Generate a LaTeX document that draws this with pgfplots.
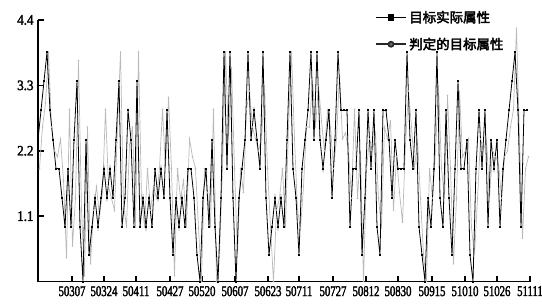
\documentclass[border=0pt]{standalone}
\usepackage{fontspec}
\setmainfont{Liberation Serif}
\newfontfamily\cjk{Noto Sans CJK SC}[FakeBold=3]
\newfontfamily\xtickfont{Liberation Serif}[FakeStretch=0.72, FakeBold=2]
\newfontfamily\ytickfont{Liberation Serif}[FakeStretch=0.9, FakeBold=2]
\usepackage{pgfplots}
\usepackage{pgfplotstable}
\pgfplotsset{compat=1.18}

\pgfplotstableread[row sep=\\]{
u a b\\
0 2.39 1.9\\
3 2.88 2.6\\
6 3.37 3.0\\
9 3.86 3.86\\
12 2.88 2.6\\
15 2.39 2.2\\
18 1.9 2.1\\
21 1.9 2.4\\
24 1.41 1.7\\
27 0.92 0.4\\
30 1.9 2.9\\
33 0.92 0.6\\
36 2.39 1.4\\
39 3.37 3.72\\
42 0.92 1.2\\
45 0 0.1\\
48 2.39 2.6\\
51 0.45 0.3\\
54 0.92 1.2\\
57 1.41 1.6\\
60 0.92 1.1\\
63 1.41 1.5\\
66 1.9 2.9\\
69 1.41 1.6\\
72 1.9 1.4\\
75 1.41 1.2\\
78 2.39 2.6\\
81 3.37 3.86\\
84 0.92 1.3\\
87 1.41 0.92\\
90 2.88 2.3\\
93 2.39 2.6\\
96 0.92 0.92\\
99 3.37 3.86\\
102 0.92 1.4\\
105 1.41 0.92\\
108 0.92 1.9\\
111 1.41 1.2\\
114 0.92 1.6\\
117 1.9 1.4\\
120 1.41 1.9\\
123 1.9 2.9\\
126 1.41 1.9\\
129 2.88 3.1\\
132 1.41 1.9\\
135 0.45 0.1\\
138 1.41 1.9\\
141 0.92 1.4\\
144 1.41 1.7\\
147 0.92 0.92\\
150 1.9 2.4\\
153 1.9 2.1\\
156 1.41 1.9\\
159 0.45 0.9\\
162 0 0\\
165 1.41 1.9\\
168 1.9 1.5\\
171 0.92 0.92\\
174 2.39 2.9\\
177 0.92 0\\
180 0 0.45\\
183 1.41 1.9\\
186 3.86 3.86\\
189 1.9 2.4\\
192 3.86 3.6\\
195 1.41 1.9\\
198 0 0.45\\
201 1.41 1.9\\
204 1.9 1.5\\
207 2.39 2.9\\
210 3.86 3.2\\
213 2.39 2.6\\
216 2.88 2.4\\
219 2.39 2.2\\
222 1.9 2.4\\
225 3.86 3.3\\
228 1.41 1.9\\
231 0.45 0.92\\
234 0.92 0\\
237 1.41 1.2\\
240 0.92 1.4\\
243 1.41 1.9\\
246 0.92 0.92\\
249 2.39 2.6\\
252 3.86 3.86\\
255 1.9 2.4\\
258 1.41 1.2\\
261 0.45 0.9\\
264 1.9 1.6\\
267 2.39 2.6\\
270 2.88 2.6\\
273 3.86 3.4\\
276 2.39 2.6\\
279 3.86 3.3\\
282 2.39 2.7\\
285 1.9 2.2\\
288 2.39 2.88\\
291 2.88 2.6\\
294 1.41 1.9\\
297 2.39 2.4\\
300 3.86 3.5\\
303 2.88 2.4\\
306 2.88 2.5\\
309 2.88 2.2\\
312 0.92 1.4\\
315 1.9 2.9\\
318 1.9 1.4\\
321 2.88 2.2\\
324 0.45 0\\
327 1.41 1.9\\
330 2.88 2.4\\
333 1.9 2.2\\
336 2.88 2.5\\
339 0.92 1.4\\
342 0.45 0.9\\
345 2.88 2.6\\
348 2.88 2.4\\
351 2.39 2.7\\
354 1.41 1.2\\
357 2.39 2.1\\
360 1.9 1.5\\
363 1.9 1.0\\
366 1.9 2.3\\
369 3.86 3.2\\
372 2.39 2.6\\
375 1.9 1.9\\
378 2.88 2.4\\
381 0.92 1.4\\
384 0.45 0.45\\
387 0 0\\
390 1.41 1.9\\
393 0.92 1.4\\
396 1.9 2.2\\
399 3.86 3.3\\
402 1.41 1.9\\
405 0.92 1.4\\
408 2.88 3.13\\
411 1.41 1.9\\
414 0.45 0.3\\
417 1.9 1.4\\
420 3.37 3.2\\
423 1.9 2.1\\
426 1.9 2.2\\
429 2.39 2.4\\
432 0.45 0.9\\
435 0 0.45\\
438 1.9 1.4\\
441 2.88 2.4\\
444 1.9 2.2\\
447 2.88 2.4\\
450 0.92 1.4\\
453 2.39 2.2\\
456 1.9 2.1\\
459 2.39 2.0\\
462 0.92 1.4\\
465 1.9 2.1\\
468 2.39 2.2\\
471 2.88 2.6\\
474 3.37 2.9\\
477 3.86 4.26\\
480 2.88 2.4\\
483 0.92 0.73\\
486 2.88 1.9\\
489 2.88 2.1\\
}\data

\begin{document}
\begin{tikzpicture}
\useasboundingbox (-38bp,-26.4bp) rectangle (504bp,281.6bp);
\begin{axis}[
  scale only axis, width=492bp, height=261.6bp,
  xmin=0, xmax=492, ymin=0, ymax=4.4,
  axis x line*=bottom, axis y line*=left,
  axis line style={line width=1.8pt,-},
  xtick={34,66,98,132,164,197,230,261,295,328,360,394,427,459,492},
  xticklabels={50307,50324,50411,50427,50520,50607,50623,50711,50727,50812,50830,50915,51010,51026,51111},
  ytick={1.1,2.2,3.3,4.4},
  yticklabels={1.1,2.2,3.3,4.4},
  tick align=inside,
  major tick length=6bp,
  tick style={line width=1.6pt,black},
  xticklabel style={font=\xtickfont\fontsize{15}{15}\selectfont, yshift=-1bp},
  yticklabel style={font=\ytickfont\fontsize{14.5}{14.5}\selectfont, xshift=-1bp},
  legend image code/.code={\draw[#1, mark repeat=2, mark phase=2] plot coordinates {(0bp,0bp) (15bp,0bp) (30bp,0bp)};},
  legend style={draw=none, fill=none, at={(0.685,1.045)}, anchor=north west,
    font=\cjk\fontsize{13.5}{13.5}\selectfont, row sep=9bp, inner sep=0pt,
    nodes={inner sep=2.5bp}},
  legend cell align=left,
]
\addplot[gray!55, line width=0.7pt, mark=*, mark size=0.4pt, forget plot] table[x expr=\thisrow{u}+1.5,y=b]{\data};
\addplot[black, line width=0.8pt, mark=square*, mark size=0.5pt, forget plot] table[x=u,y=a]{\data};
\addlegendimage{black, line width=1.6pt, mark=square*, mark size=2.6pt}
\addlegendentry{目标实际属性}
\addlegendimage{black!85, line width=1.6pt, mark=*, mark size=2.6pt, mark options={fill=black!60}}
\addlegendentry{判定的目标属性}
\end{axis}
\end{tikzpicture}
\end{document}
